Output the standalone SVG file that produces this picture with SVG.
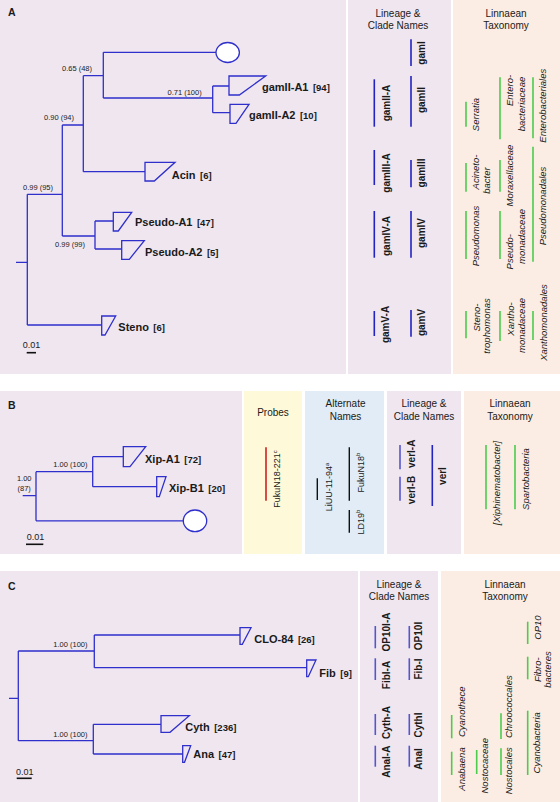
<svg xmlns="http://www.w3.org/2000/svg" width="560" height="802" viewBox="0 0 560 802">
<style>
.lav{fill:#EFE6F0}.pea{fill:#FBEDE3}.yel{fill:#FEF9D8}.blu{fill:#E1ECF6}
.tr{stroke:#2F2FCC;stroke-width:1.3;fill:none}
.wd{stroke:#2F2FCC;stroke-width:1.3;fill:none;stroke-linejoin:miter}
.cir{stroke:#2F2FCC;stroke-width:1.3;fill:#fff}
text{font-family:"Liberation Sans",Arial,sans-serif;fill:#1a1a1a}
.pl{font-size:10.5px;font-weight:bold}
.bs{font-size:7.5px;text-anchor:end}
.lf{font-size:11px;font-weight:bold}
.ct{font-size:9.5px;font-weight:bold}
.hd{font-size:10px;text-anchor:middle}
.ln{font-size:10px;font-weight:bold;text-anchor:middle}
.tx{font-size:9.5px;font-style:italic;text-anchor:middle}
.an{font-size:9px;text-anchor:middle}
.sc{font-size:9px}
.bb{stroke:#2323C0;stroke-width:1.6}
.bl{stroke:#5555CC;stroke-width:1.6}
.bg{stroke:#4CCB4C;stroke-width:1.6}
.br{stroke:#D02020;stroke-width:1.6}
.bk{stroke:#111;stroke-width:1.4}
.sb{stroke:#111;stroke-width:1.6}
</style>
<rect width="560" height="802" fill="#fff"/>
<g id="backgrounds">
<rect class="lav" x="0" y="0" width="346" height="374"/>
<rect class="lav" x="348" y="0" width="103" height="374"/>
<rect class="pea" x="453" y="0" width="107" height="374"/>
<rect class="lav" x="0" y="391" width="242" height="163"/>
<rect class="yel" x="244" y="391" width="58" height="163"/>
<rect class="blu" x="305" y="391" width="79" height="163"/>
<rect class="lav" x="387" y="391" width="74" height="163"/>
<rect class="pea" x="464" y="391" width="96" height="163"/>
<rect class="lav" x="0" y="571" width="358" height="231"/>
<rect class="lav" x="360" y="571" width="78" height="231"/>
<rect class="pea" x="441" y="571" width="119" height="231"/>
</g>
<g id="panel-labels">
<text class="pl" x="8" y="16">A</text>
<text class="pl" x="8" y="409">B</text>
<text class="pl" x="8" y="590">C</text>
</g>
<g id="headers">
<text class="hd" x="398" y="17">Lineage &amp;</text>
<text class="hd" x="398" y="29">Clade Names</text>
<text class="hd" x="506" y="17">Linnaean</text>
<text class="hd" x="506" y="29">Taxonomy</text>
<text class="hd" x="273" y="415.5">Probes</text>
<text class="hd" x="345.5" y="407">Alternate</text>
<text class="hd" x="345.5" y="419.5">Names</text>
<text class="hd" x="424" y="407">Lineage &amp;</text>
<text class="hd" x="424" y="419.5">Clade Names</text>
<text class="hd" x="510" y="407">Linnaean</text>
<text class="hd" x="510" y="419.5">Taxonomy</text>
<text class="hd" x="399" y="588">Lineage &amp;</text>
<text class="hd" x="399" y="600">Clade Names</text>
<text class="hd" x="505" y="588">Linnaean</text>
<text class="hd" x="505" y="600">Taxonomy</text>
</g>
<g id="connectors">
<path class="tr" d="M16,262.3H27.3M27.3,194.3V325M27.3,194.3H62.3M62.3,125V236M62.3,125H83.3M83.3,75.7V171.7M83.3,75.7H103.3M103.3,52.3V98M103.3,52.3H216M103.3,98H212.7M212.7,86V112.7M212.7,86H229M212.7,112.7H230M83.3,171.7H145M62.3,236H95M95,221V249M95,221H113.3M95,249H121.7M27.3,325H101.7"/>
<path class="tr" d="M22.7,495.7H36M36,471.7V520.8M36,471.7H92.7M92.7,456.7V486.7M92.7,456.7H123.3M92.7,486.7H156.7M36,520.8H183.3"/>
<path class="tr" d="M9,698.3H18.3M18.3,651V740.7M18.3,651H94.3M94.3,635V667.7M94.3,635H240M94.3,667.7H306.7M18.3,740.7H93.3M93.3,724.3V754M93.3,724.3H161M93.3,754H182.7"/>
</g>
<g id="support">
<text class="bs" x="92" y="71">0.65 (48)</text>
<text class="bs" x="201.7" y="95">0.71 (100)</text>
<text class="bs" x="74" y="120">0.90 (94)</text>
<text class="bs" x="53" y="190">0.99 (95)</text>
<text class="bs" x="85" y="247">0.99 (99)</text>
<text class="bs" x="87.5" y="467">1.00 (100)</text>
<text class="bs" x="24.2" y="481" style="text-anchor:middle">1.00</text>
<text class="bs" x="24.2" y="491" style="text-anchor:middle">(87)</text>
<text class="bs" x="87.5" y="647">1.00 (100)</text>
<text class="bs" x="87.5" y="737">1.00 (100)</text>
</g>
<g id="scalebars">
<text class="sc" x="22.7" y="348">0.01</text><line class="sb" x1="26.7" y1="352.7" x2="36" y2="352.7"/>
<text class="sc" x="26.7" y="540">0.01</text><line class="sb" x1="26" y1="544.3" x2="43.3" y2="544.3"/>
<text class="sc" x="16" y="775">0.01</text><line class="sb" x1="16.7" y1="778.3" x2="31.7" y2="778.3"/>
</g>
<g id="gamI-leaf"><ellipse class="cir" cx="227.7" cy="52.5" rx="11.7" ry="10"/></g>
<g id="gamII-A1"><polygon class="wd" points="229,76 265.7,76 239.3,95 229,95"/><text x="262" y="91"><tspan class="lf">gamII-A1</tspan> <tspan class="ct">[94]</tspan></text></g>
<g id="gamII-A2"><polygon class="wd" points="230,104.3 249,104.3 236,123.3 230,123.3"/><text x="249" y="119"><tspan class="lf">gamII-A2</tspan> <tspan class="ct">[10]</tspan></text></g>
<g id="Acin"><polygon class="wd" points="145,162.3 175,162.3 154.3,181 145,181"/><text x="171.7" y="179"><tspan class="lf">Acin</tspan> <tspan class="ct">[6]</tspan></text></g>
<g id="Pseudo-A1"><polygon class="wd" points="113.3,212.3 131.7,212.3 118.3,231 113.3,231"/><text x="135" y="225.7"><tspan class="lf">Pseudo-A1</tspan> <tspan class="ct">[47]</tspan></text></g>
<g id="Pseudo-A2"><polygon class="wd" points="121.7,240.7 144.3,240.7 129.3,259.3 121.7,259.3"/><text x="145" y="255.7"><tspan class="lf">Pseudo-A2</tspan> <tspan class="ct">[5]</tspan></text></g>
<g id="Steno"><polygon class="wd" points="101.7,316 115.7,316 105,335 101.7,335"/><text x="118.3" y="331"><tspan class="lf">Steno</tspan> <tspan class="ct">[6]</tspan></text></g>
<g id="Xip-A1"><polygon class="wd" points="123.3,446.7 145.7,446.7 130,466.7 123.3,466.7"/><text x="145" y="463"><tspan class="lf">Xip-A1</tspan> <tspan class="ct">[72]</tspan></text></g>
<g id="Xip-B1"><polygon class="wd" points="156.7,476.7 166,476.7 159.3,496.7 156.7,496.7"/><text x="169" y="492"><tspan class="lf">Xip-B1</tspan> <tspan class="ct">[20]</tspan></text></g>
<g id="verI-leaf"><ellipse class="cir" cx="195" cy="520.8" rx="11.7" ry="10.8"/></g>
<g id="CLO-84"><polygon class="wd" points="240,627.7 251,627.7 242.3,644.3 240,644.3"/><text x="254.3" y="643"><tspan class="lf">CLO-84</tspan> <tspan class="ct">[26]</tspan></text></g>
<g id="Fib"><polygon class="wd" points="306.7,660 316,660 308.3,676.7 306.7,676.7"/><text x="319.3" y="676.5"><tspan class="lf">Fib</tspan> <tspan class="ct">[9]</tspan></text></g>
<g id="Cyth"><polygon class="wd" points="161,715.7 189.3,715.7 170,732.3 161,732.3"/><text x="185.3" y="731"><tspan class="lf">Cyth</tspan> <tspan class="ct">[236]</tspan></text></g>
<g id="Ana"><polygon class="wd" points="182.7,745.7 190.7,745.7 184.5,762.3 182.7,762.3"/><text x="193.3" y="758"><tspan class="lf">Ana</tspan> <tspan class="ct">[47]</tspan></text></g>
<g id="lineage-A">
<line class="bb" x1="411" y1="39.3" x2="411" y2="66"/><text class="ln" transform="translate(425.3,53) rotate(-90)">gamI</text>
<line class="bb" x1="374.3" y1="79.3" x2="374.3" y2="126.7"/><text class="ln" transform="translate(389.7,103) rotate(-90)">gamII-A</text>
<line class="bb" x1="411" y1="76" x2="411" y2="126.7"/><text class="ln" transform="translate(425,100) rotate(-90)">gamII</text>
<line class="bb" x1="374.3" y1="150" x2="374.3" y2="185"/><text class="ln" transform="translate(389.7,173) rotate(-90)">gamIII-A</text>
<line class="bb" x1="411" y1="160" x2="411" y2="187.3"/><text class="ln" transform="translate(425,173) rotate(-90)">gamIII</text>
<line class="bb" x1="374.3" y1="211" x2="374.3" y2="257.7"/><text class="ln" transform="translate(389.7,236) rotate(-90)">gamIV-A</text>
<line class="bb" x1="411" y1="211" x2="411" y2="257.7"/><text class="ln" transform="translate(425,233) rotate(-90)">gamIV</text>
<line class="bb" x1="374.3" y1="311" x2="374.3" y2="336"/><text class="ln" transform="translate(389,324.5) rotate(-90)">gamV-A</text>
<line class="bb" x1="411" y1="310" x2="411" y2="336.7"/><text class="ln" transform="translate(425,322.5) rotate(-90)">gamV</text>
</g>
<g id="taxonomy-A">
<line class="bg" x1="466" y1="101.7" x2="466" y2="126.7"/><text class="tx" transform="translate(478.7,114.5) rotate(-90)">Serratia</text>
<line class="bg" x1="500" y1="77.3" x2="500" y2="139.3"/><text class="tx" transform="translate(513,90.5) rotate(-90)">Entero-</text><text class="tx" transform="translate(524.7,104) rotate(-90)">bacteriaceae</text>
<line class="bg" x1="533" y1="77.3" x2="533" y2="138.3"/><text class="tx" transform="translate(546.3,105.7) rotate(-90)">Enterobacteriales</text>
<line class="bg" x1="466" y1="163" x2="466" y2="191.7"/><text class="tx" transform="translate(479,172) rotate(-90)">Acineto-</text><text class="tx" transform="translate(489.7,180.5) rotate(-90)">bacter</text>
<line class="bg" x1="500" y1="160" x2="500" y2="191.7"/><text class="tx" transform="translate(513,175.5) rotate(-90)">Moraxellaceae</text>
<line class="bg" x1="533" y1="146.7" x2="533" y2="261.7"/><text class="tx" transform="translate(546.3,206) rotate(-90)">Pseudomonadales</text>
<line class="bg" x1="466" y1="211" x2="466" y2="259"/><text class="tx" transform="translate(478.7,236) rotate(-90)">Pseudomonas</text>
<line class="bg" x1="500" y1="211" x2="500" y2="259"/><text class="tx" transform="translate(513,251.7) rotate(-90)">Pseudo-</text><text class="tx" transform="translate(524.7,236.5) rotate(-90)">monadaceae</text>
<line class="bg" x1="466" y1="311" x2="466" y2="338.3"/><text class="tx" transform="translate(480.3,317.5) rotate(-90)">Steno-</text><text class="tx" transform="translate(490.3,326) rotate(-90)">trophomonas</text>
<line class="bg" x1="500" y1="311" x2="500" y2="341"/><text class="tx" transform="translate(513.7,319) rotate(-90)">Xantho-</text><text class="tx" transform="translate(524.7,325.5) rotate(-90)">monadaceae</text>
<line class="bg" x1="533" y1="311" x2="533" y2="340"/><text class="tx" transform="translate(547,322.5) rotate(-90)">Xanthomonadales</text>
</g>
<g id="probes-B">
<line class="br" x1="266" y1="447.3" x2="266" y2="500.7"/><text class="an" transform="translate(280.3,479) rotate(-90)">FukuN18-221<tspan dy="-3.5" font-size="6">c</tspan></text>
</g>
<g id="alternate-B">
<line class="bk" x1="317.3" y1="478.3" x2="317.3" y2="500"/><text class="an" transform="translate(332.3,487) rotate(-90)">LiUU-11-94<tspan dy="-3.5" font-size="6">a</tspan></text>
<line class="bk" x1="349.3" y1="447.3" x2="349.3" y2="500.7"/><text class="an" transform="translate(363.7,472.5) rotate(-90)">FukuN18<tspan dy="-3.5" font-size="6">b</tspan></text>
<line class="bk" x1="349.3" y1="510" x2="349.3" y2="532.7"/><text class="an" transform="translate(363.7,522) rotate(-90)">LD19<tspan dy="-3.5" font-size="6">b</tspan></text>
</g>
<g id="lineage-B">
<line class="bl" x1="400" y1="445" x2="400" y2="469.3"/><text class="ln" transform="translate(415.3,453.8) rotate(-90)">verI-A</text>
<line class="bl" x1="400" y1="476.7" x2="400" y2="500.7"/><text class="ln" transform="translate(415.3,490) rotate(-90)">verI-B</text>
<line class="bb" x1="432.3" y1="445" x2="432.3" y2="506"/><text class="ln" transform="translate(446.3,476) rotate(-90)">verI</text>
</g>
<g id="taxonomy-B">
<line class="bg" x1="486" y1="445" x2="486" y2="509.3"/><text class="tx" transform="translate(500.3,483) rotate(-90)">[Xiphinematobacter]</text>
<line class="bg" x1="515" y1="445" x2="515" y2="509.3"/><text class="tx" transform="translate(529,479) rotate(-90)">Spartobacteria</text>
</g>
<g id="lineage-C">
<line class="bl" x1="375.3" y1="626" x2="375.3" y2="648.3"/><text class="ln" transform="translate(390.3,632) rotate(-90)">OP10I-A</text>
<line class="bl" x1="409.3" y1="626" x2="409.3" y2="648.3"/><text class="ln" transform="translate(422,636) rotate(-90)">OP10I</text>
<line class="bl" x1="375.3" y1="658.3" x2="375.3" y2="680"/><text class="ln" transform="translate(390.3,675) rotate(-90)">FibI-A</text>
<line class="bl" x1="409.3" y1="658.3" x2="409.3" y2="680"/><text class="ln" transform="translate(422,669) rotate(-90)">Fib-I</text>
<line class="bl" x1="375.3" y1="714" x2="375.3" y2="735"/><text class="ln" transform="translate(390.3,722.5) rotate(-90)">Cyth-A</text>
<line class="bl" x1="409.3" y1="714" x2="409.3" y2="735"/><text class="ln" transform="translate(422,725) rotate(-90)">CythI</text>
<line class="bl" x1="375.3" y1="745.7" x2="375.3" y2="766.7"/><text class="ln" transform="translate(390.3,761.7) rotate(-90)">AnaI-A</text>
<line class="bl" x1="409.3" y1="745.7" x2="409.3" y2="766.7"/><text class="ln" transform="translate(422,759) rotate(-90)">AnaI</text>
</g>
<g id="taxonomy-C">
<line class="bg" x1="451.7" y1="751.7" x2="451.7" y2="775"/><text class="tx" transform="translate(464.7,769) rotate(-90)">Anabaena</text>
<line class="bg" x1="451.7" y1="715" x2="451.7" y2="738.3"/><text class="tx" transform="translate(464.7,711.7) rotate(-90)">Cyanothece</text>
<line class="bg" x1="476.7" y1="750" x2="476.7" y2="774"/><text class="tx" transform="translate(488,765.8) rotate(-90)">Nostocaceae</text>
<line class="bg" x1="501" y1="713.3" x2="501" y2="739"/><text class="tx" transform="translate(512.3,706.7) rotate(-90)">Chroococcales</text>
<line class="bg" x1="501" y1="748.3" x2="501" y2="775"/><text class="tx" transform="translate(512.3,770.8) rotate(-90)">Nostocales</text>
<line class="bg" x1="527.7" y1="710.7" x2="527.7" y2="775"/><text class="tx" transform="translate(539.7,742.8) rotate(-90)">Cyanobacteria</text>
<line class="bg" x1="527.7" y1="656.7" x2="527.7" y2="679.3"/><text class="tx" transform="translate(541.3,669.7) rotate(-90)">Fibro-</text><text class="tx" transform="translate(551.3,669.5) rotate(-90)">bacteres</text>
<line class="bg" x1="527.7" y1="621.7" x2="527.7" y2="644"/><text class="tx" transform="translate(540.7,627.5) rotate(-90)">OP10</text>
</g>
</svg>
